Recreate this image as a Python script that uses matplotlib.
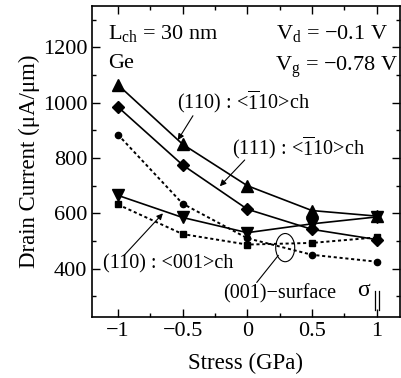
import numpy as np
import matplotlib
matplotlib.use("Agg")
import matplotlib.pyplot as plt
from matplotlib.patches import Ellipse
from matplotlib.ticker import MultipleLocator

plt.rcParams["font.family"] = ["Liberation Serif", "DejaVu Serif"]
plt.rcParams["mathtext.fontset"] = "custom"
plt.rcParams["mathtext.rm"] = "Liberation Serif"
plt.rcParams["mathtext.it"] = "Liberation Serif:italic"

stress = [-1, -0.5, 0, 0.5, 1]
i110_m110 = [1065, 850, 700, 610, 590]   # (110) : <-110>ch
i111_m110 = [985, 775, 615, 542, 505]    # (111) : <-110>ch
i110_001 = [665, 585, 530, 562, 587]     # (110) : <001>ch
i001_circ = [885, 635, 510, 450, 425]    # (001)-surface
i001_sq = [632, 525, 487, 493, 513]      # (001)-surface

fig = plt.figure(figsize=(4.02, 3.78), dpi=100)
ax = fig.add_axes([92 / 402, 61 / 378, 308 / 402, 311 / 378])

dots = (0, (1.6, 1.4))
ax.plot(stress, i110_m110, "k-^", ms=8, lw=1.2)
ax.plot(stress, i111_m110, "k-D", ms=6.5, lw=1.2)
ax.plot(stress, i110_001, "k-v", ms=8, lw=1.2)
ax.plot(stress, i001_circ, "k", ls=dots, marker="o", ms=4.5, lw=1.4)
ax.plot(stress, i001_sq, "k", ls=dots, marker="s", ms=4.2, lw=1.4)

ax.set_xlim(-1.2, 1.18)
ax.set_ylim(225, 1350)
ax.set_xticks(stress)
ax.set_xticklabels(["\u22121", "\u22120.5", "0", "0.5", "1"])
ax.set_yticks([400, 600, 800, 1000, 1200])
ax.xaxis.set_minor_locator(MultipleLocator(0.25))
ax.yaxis.set_minor_locator(MultipleLocator(100))
ax.tick_params(which="both", direction="in", top=True, right=True, labelsize=16)
ax.tick_params(which="major", length=6, width=1)
ax.tick_params(which="minor", length=3, width=1)
for s in ax.spines.values():
    s.set_linewidth(1.2)

ax.set_xlabel("Stress (GPa)", fontsize=16.5, labelpad=9)
ax.set_ylabel("Drain Current (\u03bcA/\u03bcm)", fontsize=16.5, labelpad=2)

ax.text(0.052, 0.945, r"L$_{\rm ch}$ = 30 nm", transform=ax.transAxes, fontsize=16, va="top")
ax.text(0.052, 0.845, "Ge", transform=ax.transAxes, fontsize=16, va="top")
ax.text(0.96, 0.945, "V$_{\\rm d}$ = \u22120.1 V", transform=ax.transAxes,
        fontsize=16, va="top", ha="right")
ax.text(0.995, 0.845, "V$_{\\rm g}$ = \u22120.78 V", transform=ax.transAxes,
        fontsize=16, va="top", ha="right")

# 标注：文字与箭头分开画，箭头起点按原图位置
arr = dict(arrowstyle="-|>", color="k", lw=0.8, mutation_scale=9, shrinkA=0, shrinkB=0)
ax.text(-0.54, 1000, r"(110) : <$\overline{\rm 1}$10>ch", fontsize=14.5, va="center")
ax.annotate("", xy=(-0.537, 865), xytext=(-0.42, 953), arrowprops=arr)
ax.text(-0.12, 836, r"(111) : <$\overline{\rm 1}$10>ch", fontsize=14.5, va="center")
ax.annotate("", xy=(-0.212, 698), xytext=(-0.02, 793), arrowprops=arr)
ax.text(-1.116, 418, "(110) : <001>ch", fontsize=14.5, va="center")
ax.annotate("", xy=(-0.652, 600), xytext=(-0.946, 451), arrowprops=arr)
ax.add_patch(Ellipse((0.293, 476), 0.147, 102, fill=False, color="k", lw=0.8))
ax.annotate("", xy=(0.24, 448), xytext=(0.073, 350),
            arrowprops=dict(arrowstyle="-", color="k", lw=0.8, shrinkA=0, shrinkB=0))
ax.text(-0.19, 309, "(001)\u2212surface", fontsize=14.5, va="center")
ax.text(0.846, 322, "\u03c3", fontsize=17, va="center")
ax.plot([0.99, 0.99], [251, 320], color="k", lw=0.9)
ax.plot([1.02, 1.02], [251, 320], color="k", lw=0.9)

fig.savefig("out.png", dpi=100)
